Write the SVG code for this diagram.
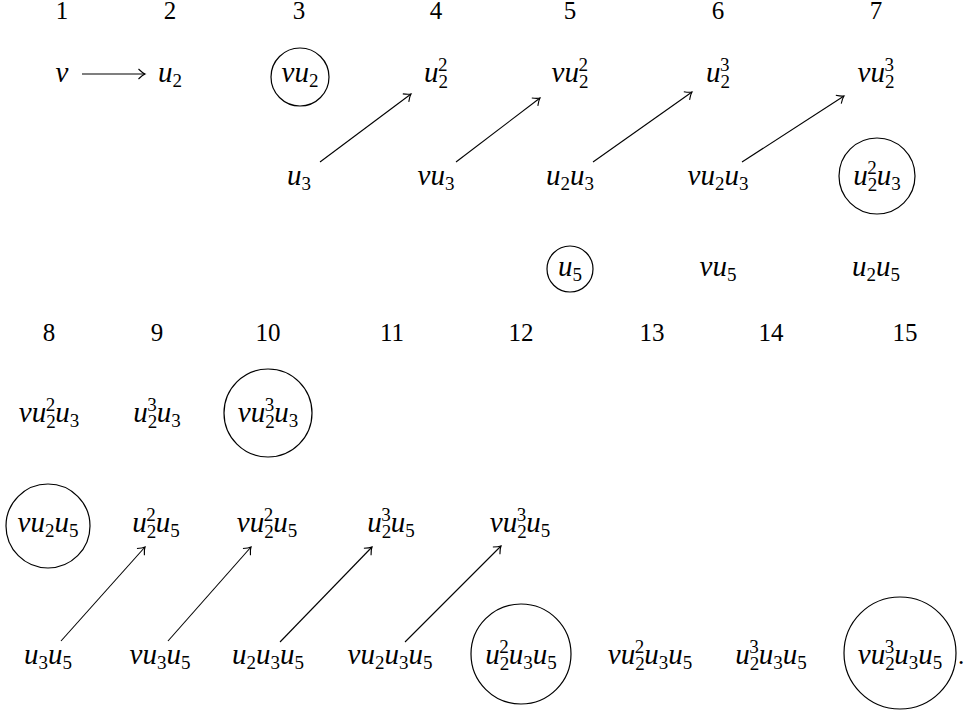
<svg xmlns="http://www.w3.org/2000/svg" width="966" height="713" viewBox="0 0 966 713" font-family="Liberation Serif, DejaVu Serif, serif">
<style>
.n{font-size:25px;fill:#000;text-anchor:middle}
.m{font-style:italic;font-size:29px;fill:#000;text-anchor:middle}
.s{font-style:normal;font-size:19px}
.c{fill:none;stroke:#000;stroke-width:1.2}
.a{fill:none;stroke:#000;stroke-width:1.1;marker-end:url(#ar)}
</style>
<defs>
<marker id="ar" markerUnits="userSpaceOnUse" markerWidth="16" markerHeight="16" viewBox="-10 -8 12 16" refX="0" refY="0" orient="auto">
<path d="M-6.5,-5 Q-2.5,-1 0,0 Q-2.5,1 -6.5,5" fill="none" stroke="#000" stroke-width="1.1"/>
</marker>
</defs>
<rect width="966" height="713" fill="#fff"/>
<g id="headers">
<text class="n" x="62" y="19">1</text>
<text class="n" x="170" y="19">2</text>
<text class="n" x="299" y="19">3</text>
<text class="n" x="436" y="19">4</text>
<text class="n" x="570" y="19">5</text>
<text class="n" x="718" y="19">6</text>
<text class="n" x="876" y="19">7</text>
<text class="n" x="49" y="341">8</text>
<text class="n" x="157" y="341">9</text>
<text class="n" x="268" y="341">10</text>
<text class="n" x="392" y="341">11</text>
<text class="n" x="521" y="341">12</text>
<text class="n" x="652" y="341">13</text>
<text class="n" x="771" y="341">14</text>
<text class="n" x="905" y="341">15</text>
</g>
<g id="connectors">
<line class="a" x1="82" y1="74" x2="145" y2="74"/>
<line class="a" x1="320" y1="162" x2="411" y2="94"/>
<line class="a" x1="456" y1="162" x2="540" y2="98"/>
<line class="a" x1="593" y1="162" x2="692" y2="92"/>
<line class="a" x1="742" y1="162" x2="844" y2="96"/>
<line class="a" x1="61" y1="641" x2="145" y2="547"/>
<line class="a" x1="168" y1="641" x2="251" y2="547"/>
<line class="a" x1="280" y1="642" x2="372" y2="547"/>
<line class="a" x1="405" y1="642" x2="501" y2="546"/>
</g>
<g id="n-v"><text class="m" x="62" y="82">v</text></g>
<g id="n-u2"><text class="m" x="170" y="82">u<tspan class="s" dy="5">2</tspan></text></g>
<g id="n-vu2"><circle class="c" cx="300" cy="77" r="29"/><text class="m" x="300" y="82">vu<tspan class="s" dy="5">2</tspan></text></g>
<g id="n-u2_2"><text class="m" x="436" y="82">u<tspan class="s" dy="6">2</tspan><tspan class="s" dx="-10" dy="-17">2</tspan></text></g>
<g id="n-vu2_2"><text class="m" x="570" y="82">vu<tspan class="s" dy="6">2</tspan><tspan class="s" dx="-10" dy="-17">2</tspan></text></g>
<g id="n-u2_3"><text class="m" x="718" y="82">u<tspan class="s" dy="6">2</tspan><tspan class="s" dx="-10" dy="-17">3</tspan></text></g>
<g id="n-vu2_3"><text class="m" x="876" y="82">vu<tspan class="s" dy="6">2</tspan><tspan class="s" dx="-10" dy="-17">3</tspan></text></g>

<g id="n-u3"><text class="m" x="299" y="185">u<tspan class="s" dy="5">3</tspan></text></g>
<g id="n-vu3"><text class="m" x="436" y="185">vu<tspan class="s" dy="5">3</tspan></text></g>
<g id="n-u2u3"><text class="m" x="570" y="185">u<tspan class="s" dy="5">2</tspan><tspan dy="-5">u</tspan><tspan class="s" dy="5">3</tspan></text></g>
<g id="n-vu2u3"><text class="m" x="718" y="185">vu<tspan class="s" dy="5">2</tspan><tspan dy="-5">u</tspan><tspan class="s" dy="5">3</tspan></text></g>
<g id="n-u2_2u3"><circle class="c" cx="877" cy="176" r="38"/><text class="m" x="877" y="185">u<tspan class="s" dy="6">2</tspan><tspan class="s" dx="-10" dy="-17">2</tspan><tspan dy="11">u</tspan><tspan class="s" dy="5">3</tspan></text></g>

<g id="n-u5"><circle class="c" cx="570" cy="269" r="23"/><text class="m" x="570" y="276">u<tspan class="s" dy="5">5</tspan></text></g>
<g id="n-vu5"><text class="m" x="718" y="276">vu<tspan class="s" dy="5">5</tspan></text></g>
<g id="n-u2u5"><text class="m" x="876" y="276">u<tspan class="s" dy="5">2</tspan><tspan dy="-5">u</tspan><tspan class="s" dy="5">5</tspan></text></g>

<g id="n-vu2_2u3"><text class="m" x="49" y="422">vu<tspan class="s" dy="6">2</tspan><tspan class="s" dx="-10" dy="-17">2</tspan><tspan dy="11">u</tspan><tspan class="s" dy="5">3</tspan></text></g>
<g id="n-u2_3u3"><text class="m" x="157" y="422">u<tspan class="s" dy="6">2</tspan><tspan class="s" dx="-10" dy="-17">3</tspan><tspan dy="11">u</tspan><tspan class="s" dy="5">3</tspan></text></g>
<g id="n-vu2_3u3"><circle class="c" cx="268" cy="413" r="44"/><text class="m" x="268" y="422">vu<tspan class="s" dy="6">2</tspan><tspan class="s" dx="-10" dy="-17">3</tspan><tspan dy="11">u</tspan><tspan class="s" dy="5">3</tspan></text></g>

<g id="n-vu2u5"><circle class="c" cx="48" cy="526" r="42"/><text class="m" x="48" y="532">vu<tspan class="s" dy="5">2</tspan><tspan dy="-5">u</tspan><tspan class="s" dy="5">5</tspan></text></g>
<g id="n-u2_2u5"><text class="m" x="156" y="532">u<tspan class="s" dy="6">2</tspan><tspan class="s" dx="-10" dy="-17">2</tspan><tspan dy="11">u</tspan><tspan class="s" dy="5">5</tspan></text></g>
<g id="n-vu2_2u5"><text class="m" x="267" y="532">vu<tspan class="s" dy="6">2</tspan><tspan class="s" dx="-10" dy="-17">2</tspan><tspan dy="11">u</tspan><tspan class="s" dy="5">5</tspan></text></g>
<g id="n-u2_3u5"><text class="m" x="391" y="532">u<tspan class="s" dy="6">2</tspan><tspan class="s" dx="-10" dy="-17">3</tspan><tspan dy="11">u</tspan><tspan class="s" dy="5">5</tspan></text></g>
<g id="n-vu2_3u5"><text class="m" x="520" y="532">vu<tspan class="s" dy="6">2</tspan><tspan class="s" dx="-10" dy="-17">3</tspan><tspan dy="11">u</tspan><tspan class="s" dy="5">5</tspan></text></g>

<g id="n-u3u5"><text class="m" x="48" y="664">u<tspan class="s" dy="5">3</tspan><tspan dy="-5">u</tspan><tspan class="s" dy="5">5</tspan></text></g>
<g id="n-vu3u5"><text class="m" x="160" y="664">vu<tspan class="s" dy="5">3</tspan><tspan dy="-5">u</tspan><tspan class="s" dy="5">5</tspan></text></g>
<g id="n-u2u3u5"><text class="m" x="268" y="664">u<tspan class="s" dy="5">2</tspan><tspan dy="-5">u</tspan><tspan class="s" dy="5">3</tspan><tspan dy="-5">u</tspan><tspan class="s" dy="5">5</tspan></text></g>
<g id="n-vu2u3u5"><text class="m" x="390" y="664">vu<tspan class="s" dy="5">2</tspan><tspan dy="-5">u</tspan><tspan class="s" dy="5">3</tspan><tspan dy="-5">u</tspan><tspan class="s" dy="5">5</tspan></text></g>
<g id="n-u2_2u3u5"><circle class="c" cx="521" cy="654" r="50"/><text class="m" x="521" y="664">u<tspan class="s" dy="6">2</tspan><tspan class="s" dx="-10" dy="-17">2</tspan><tspan dy="11">u</tspan><tspan class="s" dy="5">3</tspan><tspan dy="-5">u</tspan><tspan class="s" dy="5">5</tspan></text></g>
<g id="n-vu2_2u3u5"><text class="m" x="650" y="664">vu<tspan class="s" dy="6">2</tspan><tspan class="s" dx="-10" dy="-17">2</tspan><tspan dy="11">u</tspan><tspan class="s" dy="5">3</tspan><tspan dy="-5">u</tspan><tspan class="s" dy="5">5</tspan></text></g>
<g id="n-u2_3u3u5"><text class="m" x="771" y="664">u<tspan class="s" dy="6">2</tspan><tspan class="s" dx="-10" dy="-17">3</tspan><tspan dy="11">u</tspan><tspan class="s" dy="5">3</tspan><tspan dy="-5">u</tspan><tspan class="s" dy="5">5</tspan></text></g>
<g id="n-vu2_3u3u5"><circle class="c" cx="900" cy="653" r="56"/><text class="m" x="900" y="664">vu<tspan class="s" dy="6">2</tspan><tspan class="s" dx="-10" dy="-17">3</tspan><tspan dy="11">u</tspan><tspan class="s" dy="5">3</tspan><tspan dy="-5">u</tspan><tspan class="s" dy="5">5</tspan></text>
<text class="n" x="961" y="664">.</text></g>
</svg>
